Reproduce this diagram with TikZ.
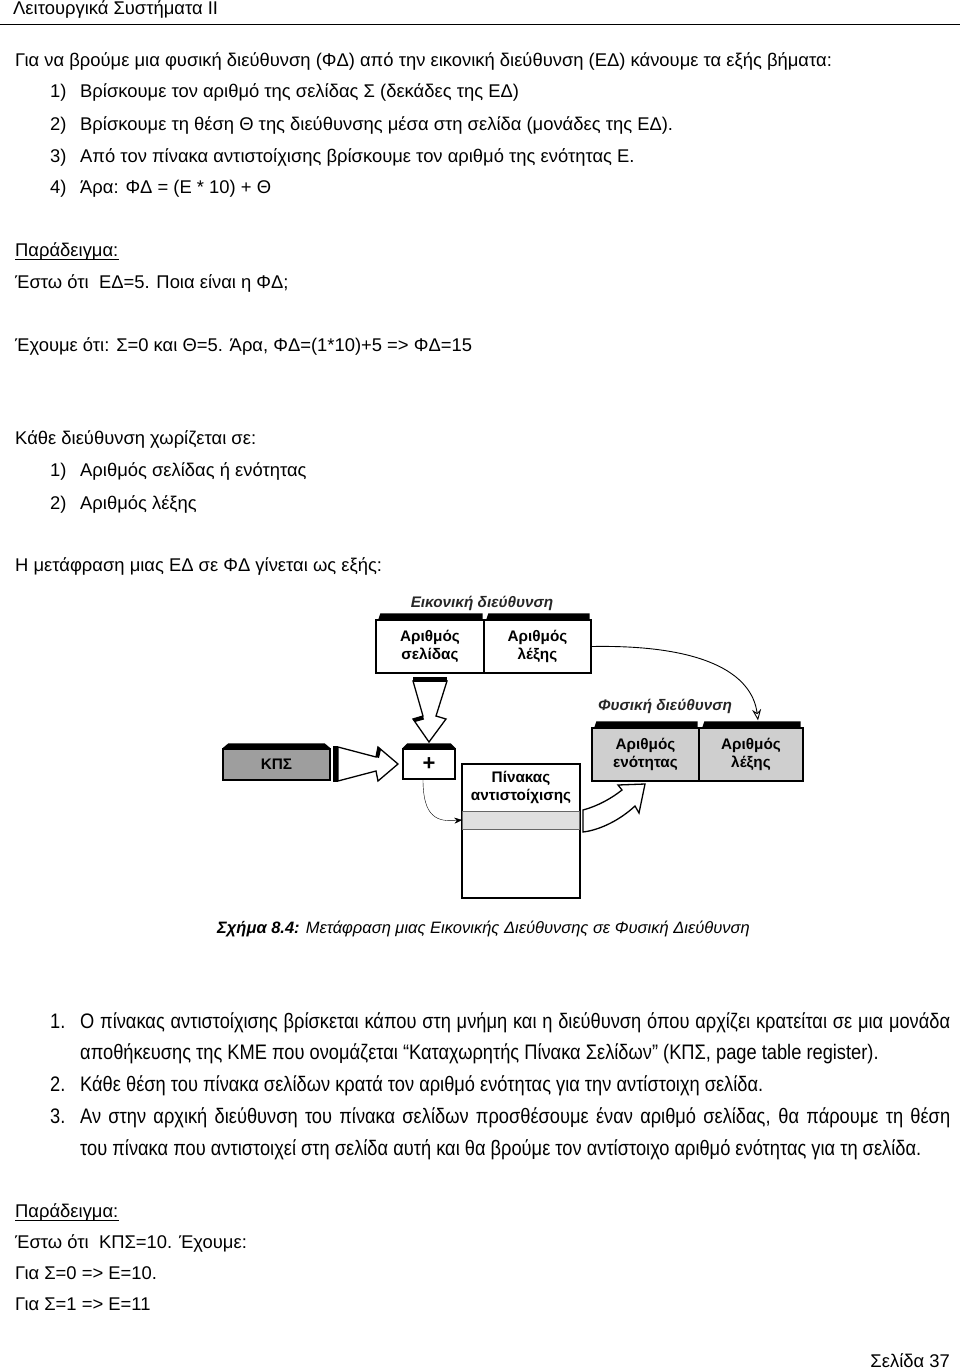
\documentclass[tikz,border=0pt]{standalone}
\usepackage{fontspec}
\setmainfont{Liberation Sans}
\newfontfamily\narrowfont{Liberation Sans}[FakeStretch=0.87]
\usetikzlibrary{arrows.meta}

\begin{document}
\begin{tikzpicture}[x=1pt,y=-1pt,
  txt/.style={anchor=base west,inner sep=0pt,font=\fontsize{18.4}{22}\selectfont},
  nrw/.style={anchor=base west,inner sep=0pt,font=\narrowfont\fontsize{21}{25}\selectfont},
  lbl/.style={inner sep=0pt,align=center,font=\fontsize{15.3}{18}\selectfont\bfseries},
  ttl/.style={inner sep=0pt,text=black!85,font=\fontsize{15.3}{18}\selectfont\bfseries\itshape},
  box/.style={draw,line width=1.3pt,inner sep=0pt},
  hollow/.style={draw,line width=1.3pt,fill=white,line join=miter}]
  \useasboundingbox (0,0) rectangle (960,1371);
  % page head
  \node[txt] (head) at (13,14) {Λειτουργικά Συστήματα ΙΙ};
  \draw[line width=0.8pt] (0,24) -- (960,24);
  \node[txt] (intro) at (15,66) {Για να βρούμε μια φυσική διεύθυνση (ΦΔ) από την εικονική διεύθυνση (ΕΔ) κάνουμε τα εξής βήματα:};
  \node[txt] (n1) at (50,97) {1)};
  \node[txt] (s1) at (80,97) {Βρίσκουμε τον αριθμό της σελίδας Σ (δεκάδες της ΕΔ)};
  \node[txt] (n2) at (50,130) {2)};
  \node[txt] (s2) at (80,130) {Βρίσκουμε τη θέση Θ της διεύθυνσης μέσα στη σελίδα (μονάδες της ΕΔ).};
  \node[txt] (n3) at (50,162) {3)};
  \node[txt] (s3) at (80,162) {Από τον πίνακα αντιστοίχισης βρίσκουμε τον αριθμό της ενότητας Ε.};
  \node[txt] (n4) at (50,193) {4)};
  \node[txt] (s4) at (80,193) {Άρα: ΦΔ = (Ε * 10) + Θ};
  \node[txt] (ex1) at (15,256) {Παράδειγμα:};
  \draw[line width=0.7pt] ([yshift=-3pt]ex1.base west) -- ([yshift=-3pt]ex1.base east);
  \node[txt] (ex1a) at (15,288) {Έστω ότι\ \ ΕΔ=5. Ποια είναι η ΦΔ;};
  \node[txt] (ex1b) at (15,351) {Έχουμε ότι: Σ=0 και Θ=5. Άρα, ΦΔ=(1*10)+5 => ΦΔ=15};
  \node[txt] (split) at (15,444) {Κάθε διεύθυνση χωρίζεται σε:};
  \node[txt] (m1) at (50,476) {1)};
  \node[txt] (p1) at (80,476) {Αριθμός σελίδας ή ενότητας};
  \node[txt] (m2) at (50,509) {2)};
  \node[txt] (p2) at (80,509) {Αριθμός λέξης};
  \node[txt] (trans) at (15,571) {Η μετάφραση μιας ΕΔ σε ΦΔ γίνεται ως εξής:};

  % virtual address
  \node[ttl] (vtitle) at (482,603) {Εικονική διεύθυνση};
  \node[box,lbl,minimum width=108pt,minimum height=53pt] (sel) at (430,646.5) {Αριθμός\\σελίδας};
  \node[box,lbl,minimum width=107pt,minimum height=53pt] (wrd) at (537.5,646.5) {Αριθμός\\λέξης};
  \fill ([xshift=3pt]sel.north west) -- ++(2,-6) -| ([xshift=-2pt]sel.north east) -- cycle;
  \fill ([xshift=3pt]wrd.north west) -- ++(2,-6) -| ([xshift=-2pt]wrd.north east) -- cycle;

  % register and adder
  \node[box,lbl,fill=black!38,minimum width=107pt,minimum height=31pt] (kps) at (276.5,764.5) {ΚΠΣ};
  \fill (kps.north west) -- ++(6,-5) -- ([xshift=-6pt,yshift=5pt]kps.north east) -- (kps.north east) -- cycle;
  \node[box,inner sep=0pt,minimum width=52pt,minimum height=30pt,font=\fontsize{22}{22}\selectfont\bfseries] (plus) at (429,764) {+};
  \fill (plus.north west) -- ++(5,-5) -- ([xshift=-5pt,yshift=5pt]plus.north east) -- (plus.north east) -- cycle;

  % block arrows
  \draw[hollow] (413,681) -- (423,716) -- (413,719) -- (429,742) -- (446,719) -- (436,716) -- (447,681) -- cycle;
  \fill (413,677) rectangle (447,682);
  \fill (423,716) -- (413,719) -- (415,722) -- (424,719.5) -- cycle;
  \draw[hollow] (338,747) -- (376,757) -- (378,747) -- (398,764) -- (378,781) -- (376,771) -- (338,781) -- cycle;
  \fill (333,746) rectangle (338,782);
  \fill (376,757) -- (378,747) -- (381,749.5) -- (379,758) -- cycle;

  % page table
  \node[box,minimum width=118pt,minimum height=134pt] (tbl) at (521,831) {};
  \node[lbl] (tbltxt) at (521,787) {Πίνακας\\αντιστοίχισης};
  \node[draw=black!60,fill=black!12,inner sep=0pt,minimum width=117pt,minimum height=18pt] (row) at (521,820) {};
  \draw[-{Stealth[length=8pt,width=6pt]}] ([xshift=-6pt]plus.south) .. controls +(0,38) and +(-25,2) .. (row.west);

  % physical address
  \node[ttl] (ptitle) at (665,706) {Φυσική διεύθυνση};
  \node[box,lbl,fill=black!19,minimum width=107pt,minimum height=53pt] (sec) at (645.5,754.5) {Αριθμός\\ενότητας};
  \node[box,lbl,fill=black!19,minimum width=104pt,minimum height=53pt] (pwrd) at (751,754.5) {Αριθμός\\λέξης};
  \fill ([xshift=3pt]sec.north west) -- ++(2,-6) -| ([xshift=-2pt]sec.north east) -- cycle;
  \fill ([xshift=4pt]pwrd.north west) -- ++(2,-6) -| ([xshift=-3pt]pwrd.north east) -- cycle;
  \draw[hollow] (583,810) .. controls (598,806) and (612,798) .. (622,790) -- (618,785) -- (645,784) -- (639,813) -- (635,806)
    .. controls (620,820) and (600,830) .. (583,832) -- cycle;
  \draw[line width=0.9pt,-{Stealth[open,length=11pt,width=9pt]}] (wrd.east) .. controls +(110,-2) and +(-6,-48) .. ([xshift=7pt,yshift=7pt]pwrd.north);

  % caption
  \node[anchor=base west,inner sep=0pt,font=\fontsize{16.5}{19}\selectfont] (cap) at (217,933)
    {{\bfseries\itshape Σχήμα 8.4:} {\itshape Μετάφραση μιας Εικονικής Διεύθυνσης σε Φυσική Διεύθυνση}};

  % notes
  \node[nrw] (k1) at (50,1028) {1.};
  \node[nrw] (t1) at (80,1028) {\makebox[870pt][s]{Ο πίνακας αντιστοίχισης βρίσκεται κάπου στη μνήμη και η διεύθυνση όπου αρχίζει κρατείται σε μια μονάδα}};
  \node[nrw] (t1b) at (80,1059) {αποθήκευσης της ΚΜΕ που ονομάζεται “Καταχωρητής Πίνακα Σελίδων” (ΚΠΣ, page table register).};
  \node[nrw] (k2) at (50,1091) {2.};
  \node[nrw] (t2) at (80,1091) {Κάθε θέση του πίνακα σελίδων κρατά τον αριθμό ενότητας για την αντίστοιχη σελίδα.};
  \node[nrw] (k3) at (50,1123) {3.};
  \node[nrw] (t3) at (80,1123) {\makebox[870pt][s]{Αν στην αρχική διεύθυνση του πίνακα σελίδων προσθέσουμε έναν αριθμό σελίδας, θα πάρουμε τη θέση}};
  \node[nrw] (t3b) at (80,1155) {του πίνακα που αντιστοιχεί στη σελίδα αυτή και θα βρούμε τον αντίστοιχο αριθμό ενότητας για τη σελίδα.};

  \node[txt] (ex2) at (15,1217) {Παράδειγμα:};
  \draw[line width=0.7pt] ([yshift=-3pt]ex2.base west) -- ([yshift=-3pt]ex2.base east);
  \node[txt] (ex2a) at (15,1248) {Έστω ότι\ \ ΚΠΣ=10. Έχουμε:};
  \node[txt] (ex2b) at (15,1279) {Για Σ=0 => Ε=10.};
  \node[txt] (ex2c) at (15,1310) {Για Σ=1 => Ε=11};
  \node[txt,anchor=base east] (foot) at (950,1367) {Σελίδα 37};
\end{tikzpicture}
\end{document}
